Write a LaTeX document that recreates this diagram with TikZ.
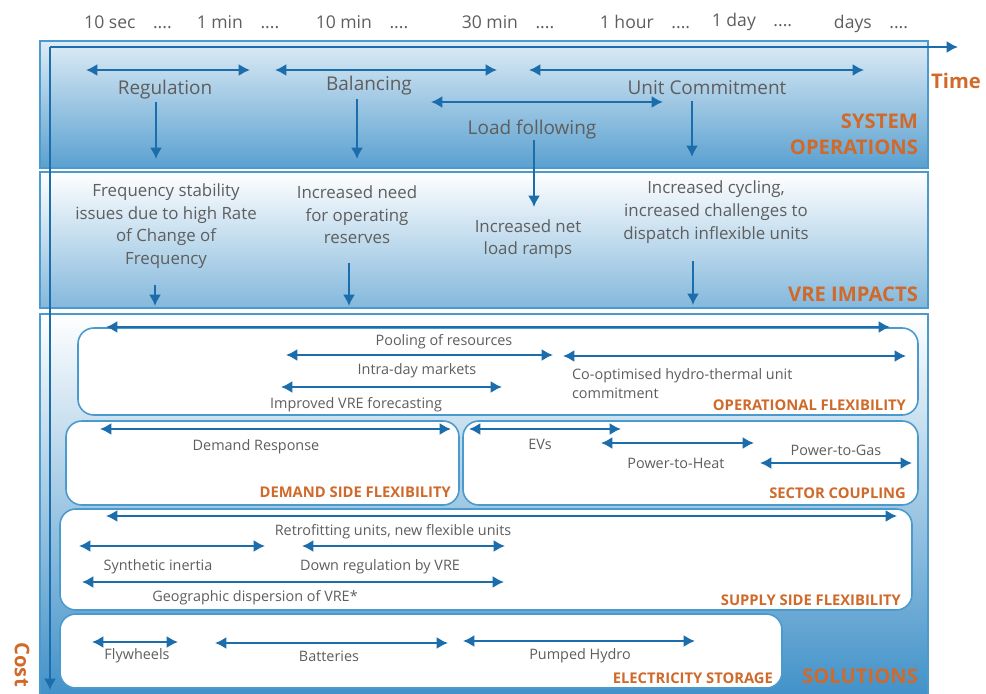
\documentclass[tikz,border=0pt]{standalone}
\usepackage{fontspec}
\setmainfont{Open Sans}
\usetikzlibrary{arrows.meta}

\definecolor{arrowblue}{HTML}{1C6DAB}
\definecolor{edgeblue}{HTML}{4A9ACD}
\definecolor{panelblue}{HTML}{5AA0D0}
\definecolor{deepblue}{HTML}{3F90C8}
\definecolor{labelgrey}{HTML}{5E5E5E}
\definecolor{titleorange}{HTML}{CF6A2B}

\begin{document}
\begin{tikzpicture}[
    x=0.02cm, y=-0.02cm,
    span/.style={arrowblue, line width=1.3pt, {Latex[length=6.5pt,width=7pt]}-{Latex[length=6.5pt,width=7pt]}},
    drop/.style={arrowblue, line width=1.3pt, -{Latex[length=6.5pt,width=7pt]}},
    panel/.style={draw=edgeblue, line width=0.9pt, top color=white, bottom color=panelblue},
    subbox/.style={draw=edgeblue, line width=0.9pt, fill=white, rounded corners=9pt},
    timelbl/.style={text=labelgrey, font=\fontsize{10}{12}\selectfont, inner sep=1pt},
    lbl/.style={text=labelgrey, font=\fontsize{8.2}{10.8}\selectfont, inner sep=1pt},
    biglbl/.style={text=labelgrey, font=\fontsize{10.8}{12}\selectfont, inner sep=1pt},
    impact/.style={text=labelgrey, font=\fontsize{9.6}{12.9}\selectfont, align=center, inner sep=1pt},
    boxtitle/.style={text=titleorange, font=\bfseries\fontsize{8.4}{9}\selectfont, anchor=east, inner sep=1pt},
    paneltitle/.style={text=titleorange, font=\bfseries\fontsize{11.5}{14.7}\selectfont, anchor=east, align=right, inner sep=1pt}
  ]
  \useasboundingbox (0,0) rectangle (986,693);

  % panels
  \draw[panel, top color=panelblue!20] (40,41) rectangle (928,168);
  \draw[panel, bottom color=panelblue!75] (40,172) rectangle (928,308);
  \draw[panel, bottom color=deepblue] (40,314) rectangle (928,700);

  \draw[subbox] (78,328) rectangle (918,415);
  \draw[subbox] (66,421) rectangle (459,505);
  \draw[subbox] (463,421) rectangle (918,505);
  \draw[subbox] (60,509) rectangle (912,610);
  \draw[subbox] (60,614) rectangle (782,688);

  % axes
  \coordinate (origin) at (50,47);
  \coordinate (timeend) at (958,47);
  \coordinate (costend) at (50,690);
  \draw[drop, line width=1.5pt] (origin) -- (timeend);
  \draw[drop, line width=1.5pt] (origin) -- (costend);
  \node[text=titleorange, font=\bfseries\fontsize{11.5}{14}\selectfont] (timelbl) at (956,81) {Time};
  \node[text=titleorange, font=\bfseries\fontsize{11.5}{14}\selectfont, rotate=-90, anchor=east] (costlbl) at (22,693) {Cost};

  \foreach \nm/\xx/\yy/\txt in {t1/128/22/10 sec, t2/238/22/1 min, t3/362/22/10 min, t4/508/22/30 min,
      t5/645/22/1 hour, t6/752/22/1 day, t7/871/24/days}
    \node[timelbl] (\nm) at (\xx,\yy) {\txt\quad....};

  \foreach \nm/\xa/\xb/\yy in {reg/86/250/70, bal/275/497/70, uc/529/864/70, lf/431/663/102,
      oplong/106/890/327, pool/286/553/355, coopt/563/906/356, intra/281/502/387,
      dr/100/451/429, ev/469/621/429, pth/601/754/443, ptg/760/912/463,
      supplong/106/897/516, retro/302/505/546, synth/79/265/546, downreg/82/504/582,
      fly/92/178/642, batt/215/448/643, hydro/463/695/641}{
    \coordinate (\nm-l) at (\xa,\yy);
    \coordinate (\nm-r) at (\xb,\yy);
    \draw[span] (\nm-l) -- (\nm-r);
  }

  \foreach \nm/\xx/\ya/\yb in {regdrop/156/102/159, baldrop/357/99/159, ucdrop/692/101/157,
      lfdrop/534/140/207, freqdrop/155/285/306, resdrop/349/263/306, cycdrop/693/261/305}{
    \coordinate (\nm-top) at (\xx,\ya);
    \coordinate (\nm-end) at (\xx,\yb);
    \draw[drop] (\nm-top) -- (\nm-end);
  }

  % system operations
  \node[biglbl] (regulation) at (165,90) {Regulation};
  \node[biglbl] (balancing) at (369,86) {Balancing};
  \node[biglbl] (unitcommit) at (707,88) {Unit Commitment};
  \node[biglbl] (loadfollow) at (532,130) {Load following};
  \node[paneltitle] (sysops) at (920,134) {SYSTEM\\OPERATIONS};

  % vre impacts
  \node[impact] (freq) at (166,226) {Frequency stability\\issues due to high Rate\\of Change of\\Frequency};
  \node[impact] (reserves) at (357,215) {Increased need\\for operating\\reserves};
  \node[impact] (netramp) at (528,239) {Increased net\\load ramps};
  \node[impact] (cycling) at (716,212) {Increased cycling,\\increased challenges to\\dispatch inflexible units};
  \node[paneltitle] (vreimp) at (920,294) {VRE IMPACTS};

  % solutions
  \node[lbl] (poollbl) at (444,342) {Pooling of resources};
  \node[lbl] (intralbl) at (417,371) {Intra-day markets};
  \node[lbl] (forecastlbl) at (356,405) {Improved VRE forecasting};
  \node[lbl, anchor=west, align=left] (cooptlbl) at (570,384) {Co-optimised hydro-thermal unit\\commitment};
  \node[boxtitle] (opflex) at (908,405) {OPERATIONAL FLEXIBILITY};

  \node[lbl] (drlbl) at (256,447) {Demand Response};
  \node[boxtitle] (dsflex) at (453,492) {DEMAND SIDE FLEXIBILITY};

  \node[lbl] (evlbl) at (540,444) {EVs};
  \node[lbl] (pthlbl) at (676,463) {Power-to-Heat};
  \node[lbl] (ptglbl) at (836,450) {Power-to-Gas};
  \node[boxtitle] (sectorc) at (908,493) {SECTOR COUPLING};

  \node[lbl] (retrolbl) at (393,532) {Retrofitting units, new flexible units};
  \node[lbl] (synthlbl) at (158,567) {Synthetic inertia};
  \node[lbl] (downreglbl) at (380,567) {Down regulation by VRE};
  \node[lbl] (geolbl) at (255,598) {Geographic dispersion of VRE*};
  \node[boxtitle] (ssflex) at (903,600) {SUPPLY SIDE FLEXIBILITY};

  \node[lbl] (flylbl) at (137,656) {Flywheels};
  \node[lbl] (battlbl) at (329,656) {Batteries};
  \node[lbl] (hydrolbl) at (580,656) {Pumped Hydro};
  \node[boxtitle] (estorage) at (775,678) {ELECTRICITY STORAGE};
  \node[paneltitle] (solutions) at (920,676) {SOLUTIONS};
\end{tikzpicture}
\end{document}
